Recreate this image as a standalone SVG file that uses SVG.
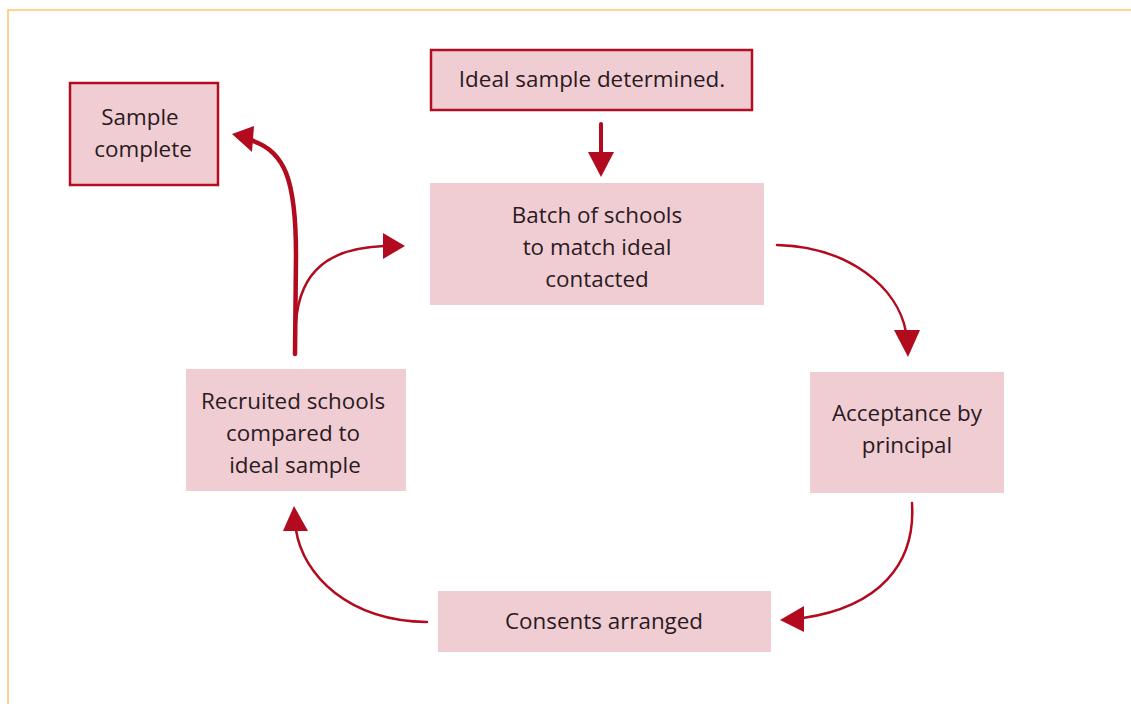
<svg xmlns="http://www.w3.org/2000/svg" width="1131" height="704" viewBox="0 0 1131 704">
<style>
.box{fill:#f0cdd2}
.bord{stroke:#b20d22;stroke-width:2.5}
.t{font-family:"Open Sans","Noto Sans","Liberation Sans",sans-serif;font-size:22.4px;fill:#2a1a1f;text-anchor:middle}
.c{fill:none;stroke:#b20a1e;stroke-linecap:round}
.head{fill:#b20a1e}
</style>
<rect x="0" y="0" width="1131" height="704" fill="#ffffff"/>
<path d="M8,704 L8,10 L1131,10" fill="none" stroke="#fdc57a" stroke-width="1.6"/>

<g id="connectors">
  <path class="c" stroke-width="4" d="M601,124 L601,154"/>
  <polygon class="head" points="588,152 614,152 601,177"/>

  <path class="c" stroke-width="2.5" d="M777,245 C850,247 898,288 906,332"/>
  <polygon class="head" points="894,330 920,330 908,357"/>

  <path class="c" stroke-width="2.5" d="M912,503 C916,565 878,607 803,618"/>
  <polygon class="head" points="804,606 804,632 780,620"/>

  <path class="c" stroke-width="2.5" d="M427,622 C348,621 303,575 296,530"/>
  <polygon class="head" points="283,531 308,531 294,506"/>

  <path class="c" stroke-width="4.5" d="M295,354 L296,255 C296,180 285,150 250,140"/>
  <polygon class="head" points="232,134 254,126 252,152"/>

  <path class="c" stroke-width="2.5" d="M296,322 C300,270 330,248 384,246"/>
  <polygon class="head" points="383,233 383,259 405,246"/>
</g>

<g id="sample-complete">
  <rect class="box bord" x="70" y="83" width="148" height="102"/>
  <text class="t" x="140" y="125">Sample</text>
  <text class="t" x="143" y="157">complete</text>
</g>
<g id="ideal-sample">
  <rect class="box bord" x="431" y="50" width="321" height="60"/>
  <text class="t" x="592" y="87">Ideal sample determined.</text>
</g>
<g id="batch">
  <rect class="box" x="430" y="183" width="334" height="122"/>
  <text class="t" x="597" y="223">Batch of schools</text>
  <text class="t" x="597" y="255">to match ideal</text>
  <text class="t" x="597" y="287">contacted</text>
</g>
<g id="acceptance">
  <rect class="box" x="810" y="372" width="194" height="121"/>
  <text class="t" x="907" y="421">Acceptance by</text>
  <text class="t" x="907" y="453">principal</text>
</g>
<g id="consents">
  <rect class="box" x="438" y="591" width="333" height="61"/>
  <text class="t" x="604" y="629">Consents arranged</text>
</g>
<g id="recruited">
  <rect class="box" x="186" y="369" width="220" height="122"/>
  <text class="t" x="293" y="409">Recruited schools</text>
  <text class="t" x="293" y="441">compared to</text>
  <text class="t" x="295" y="473">ideal sample</text>
</g>
</svg>
